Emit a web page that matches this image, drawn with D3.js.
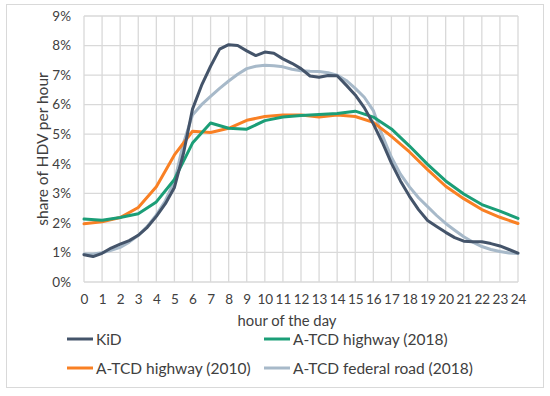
<!DOCTYPE html>
<html>
<head>
<meta charset="utf-8">
<script src="https://cdn.jsdelivr.net/npm/d3@7"></script>
<style>
  html, body { margin: 0; padding: 0; background: #fff; }
  svg { display: block; }
  text { font-family: Lato, "Open Sans", sans-serif; fill: #404040; }
</style>
</head>
<body>
<svg id="chart" width="550" height="396"></svg>
<script>
// ---------- data ----------
const xTickLabels = ["0","1","2","3","4","5","6","7","8","9","10","11","12","13","14","15","16","17","18","19","20","21","22","23","24"];
const yTickValues = [0, 1, 2, 3, 4, 5, 6, 7, 8, 9];

const hourly = [0,1,2,3,4,5,6,7,8,9,10,11,12,13,14,15,16,17,18,19,20,21,22,23,24];
const halfHourly = [0,0.5,1,1.5,2,2.5,3,3.5,4,4.5,5,5.5,6,6.5,7,7.5,8,8.5,9,9.5,10,10.5,11,11.5,12,12.5,13,13.5,14,14.5,15,15.5,16,16.5,17,17.5,18,18.5,19,19.5,20,20.5,21,21.5,22,22.5,23,23.5,24];

const kidValues = [0.92,0.86,0.97,1.15,1.28,1.40,1.58,1.85,2.22,2.65,3.20,4.35,5.85,6.65,7.30,7.88,8.03,8.00,7.82,7.66,7.78,7.74,7.55,7.40,7.22,6.97,6.93,6.99,6.98,6.66,6.33,5.90,5.35,4.72,4.02,3.42,2.90,2.45,2.08,1.88,1.68,1.50,1.38,1.36,1.36,1.30,1.22,1.10,0.98];
const federalValues = [0.95,0.95,0.99,1.07,1.17,1.35,1.58,1.88,2.27,2.75,3.40,4.70,5.65,6.00,6.28,6.55,6.80,7.03,7.22,7.30,7.33,7.32,7.28,7.20,7.15,7.13,7.12,7.08,7.00,6.82,6.55,6.25,5.80,4.95,4.22,3.65,3.22,2.85,2.55,2.25,1.98,1.75,1.53,1.35,1.20,1.10,1.03,0.98,0.96];
const highway2018Values = [2.13,2.09,2.18,2.31,2.71,3.47,4.70,5.38,5.20,5.17,5.46,5.58,5.63,5.67,5.70,5.78,5.58,5.18,4.60,3.98,3.42,2.98,2.62,2.40,2.15];
const highway2010Values = [1.97,2.04,2.18,2.52,3.22,4.30,5.10,5.06,5.20,5.47,5.60,5.65,5.65,5.58,5.65,5.60,5.40,4.93,4.40,3.80,3.24,2.82,2.45,2.19,1.98];

const seriesNames = ["KiD", "A-TCD highway (2018)", "A-TCD highway (2010)", "A-TCD federal road (2018)"];
const seriesColors = ["#44546a", "#1b9e77", "#f98024", "#a7b9c9"];

// ---------- build ----------
const series = [
  { name: seriesNames[0], color: seriesColors[0], pts: halfHourly.map((h, i) => [h, kidValues[i]]) },
  { name: seriesNames[1], color: seriesColors[1], pts: hourly.map((h, i) => [h, highway2018Values[i]]) },
  { name: seriesNames[2], color: seriesColors[2], pts: hourly.map((h, i) => [h, highway2010Values[i]]) },
  { name: seriesNames[3], color: seriesColors[3], pts: halfHourly.map((h, i) => [h, federalValues[i]]) }
];
const drawOrder = [3, 2, 1, 0];

const svg = d3.select("#chart");
const plot = { left: 84, right: 518, top: 16, bottom: 282 };

// outer border
svg.append("rect").attr("x", 6.5).attr("y", 4.5).attr("width", 537).attr("height", 383)
  .attr("fill", "#fff").attr("stroke", "#d9d9d9").attr("stroke-width", 1);

const x = d3.scaleLinear().domain([0, 24]).range([plot.left, plot.right]);
const y = d3.scaleLinear().domain([0, 9]).range([plot.bottom, plot.top]);

// gridlines
const grid = svg.append("g");
grid.selectAll("line.v").data(hourly).join("line")
  .attr("x1", d => x(d)).attr("x2", d => x(d))
  .attr("y1", plot.top).attr("y2", plot.bottom)
  .attr("stroke", "#d9d9d9").attr("stroke-width", 1.3);
grid.selectAll("line.h").data(yTickValues).join("line")
  .attr("x1", plot.left).attr("x2", plot.right)
  .attr("y1", d => y(d)).attr("y2", d => y(d))
  .attr("stroke", "#d9d9d9").attr("stroke-width", 1.3);

// y axis labels
const yAxis = d3.axisLeft(y).tickValues(yTickValues).tickFormat(d => d + "%").tickSize(0).tickPadding(13);
const gy = svg.append("g").attr("transform", `translate(${plot.left},0)`).call(yAxis);
gy.select(".domain").remove();
gy.selectAll("text").attr("font-size", 13.5).attr("fill", "#595959").attr("font-family", "Lato, sans-serif");

// x axis labels
const xAxis = d3.axisBottom(x).tickValues(hourly).tickFormat((d, i) => xTickLabels[i]).tickSize(0).tickPadding(12);
const gx = svg.append("g").attr("transform", `translate(0,${plot.bottom})`).call(xAxis);
gx.select(".domain").remove();
gx.selectAll("text").attr("font-size", 13.5).attr("fill", "#595959").attr("font-family", "Lato, sans-serif");

// lines
const line = d3.line().x(d => x(d[0])).y(d => y(d[1]));
svg.append("g").selectAll("path").data(drawOrder.map(i => series[i])).join("path")
  .attr("d", d => line(d.pts))
  .attr("fill", "none")
  .attr("stroke", d => d.color)
  .attr("stroke-width", 3)
  .attr("stroke-linejoin", "round")
  .attr("stroke-linecap", "round");

// axis titles
svg.append("text").attr("x", 287).attr("y", 326).attr("text-anchor", "middle")
  .attr("font-size", 14.8).attr("fill", "#000").text("hour of the day");
svg.append("text").attr("transform", `translate(48,${(plot.top + plot.bottom) / 2}) rotate(-90)`)
  .attr("text-anchor", "middle").attr("font-size", 15.5).attr("fill", "#000").text("share of HDV per hour");

// legend
const legendPos = [[67, 339], [264, 339], [67, 368], [264, 368]];
const lg = svg.append("g").selectAll("g").data(series).join("g")
  .attr("transform", (d, i) => `translate(${legendPos[i][0]},${legendPos[i][1]})`);
lg.append("line").attr("x1", 0).attr("x2", 26).attr("y1", 0).attr("y2", 0)
  .attr("stroke", d => d.color).attr("stroke-width", 3);
lg.append("text").attr("x", 29).attr("y", 5.5).attr("font-size", 15.5).attr("fill", "#404040")
  .text(d => d.name);
</script>
</body>
</html>
